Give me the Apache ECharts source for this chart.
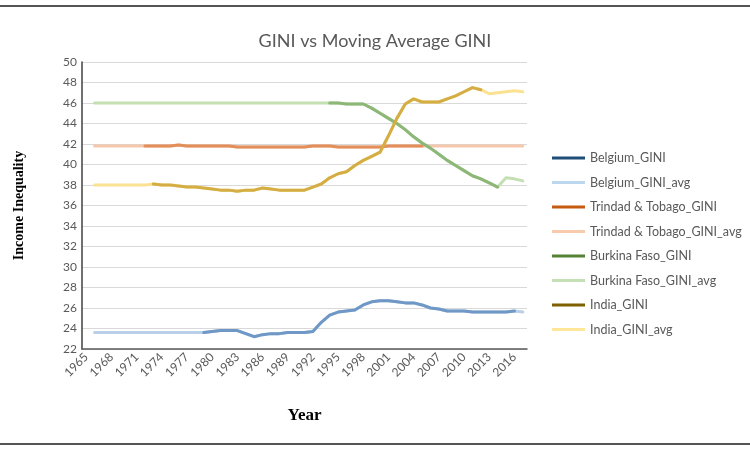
<!DOCTYPE html>
<html>
<head>
<meta charset="utf-8">
<script src="https://cdn.jsdelivr.net/npm/echarts@6/dist/echarts.min.js"></script>
<style>
html,body{margin:0;padding:0;background:#fff;}
#chart{width:750px;height:450px;}
</style>
</head>
<body>
<div id="chart"></div>
<script>
const years = ['1965','1966','1967','1968','1969','1970','1971','1972','1973','1974','1975','1976','1977','1978','1979','1980','1981','1982','1983','1984','1985','1986','1987','1988','1989','1990','1991','1992','1993','1994','1995','1996','1997','1998','1999','2000','2001','2002','2003','2004','2005','2006','2007','2008','2009','2010','2011','2012','2013','2014','2015','2016','2017'];

const belgiumGini = [null,null,null,null,null,null,null,null,null,null,null,null,null,null,
  23.6,23.7,23.8,23.8,23.8,23.5,23.2,23.4,23.5,23.5,23.6,23.6,23.6,23.7,24.6,25.3,25.6,25.7,25.8,26.3,26.6,26.7,26.7,26.6,26.5,26.5,26.3,26.0,25.9,25.7,25.7,25.7,25.6,25.6,25.6,25.6,25.6,25.7,null];
const belgiumAvg = [null,23.6,23.6,23.6,23.6,23.6,23.6,23.6,23.6,23.6,23.6,23.6,23.6,23.6,
  23.6,23.7,23.8,23.8,23.8,23.5,23.2,23.4,23.5,23.5,23.6,23.6,23.6,23.7,24.6,25.3,25.6,25.7,25.8,26.3,26.6,26.7,26.7,26.6,26.5,26.5,26.3,26.0,25.9,25.7,25.7,25.7,25.6,25.6,25.6,25.6,25.6,25.7,25.6];

const trinidadGini = [null,null,null,null,null,null,null,
  41.8,41.8,41.8,41.8,41.9,41.8,41.8,41.8,41.8,41.8,41.8,41.7,41.7,41.7,41.7,41.7,41.7,41.7,41.7,41.7,41.8,41.8,41.8,41.7,41.7,41.7,41.7,41.7,41.7,41.8,41.8,41.8,41.8,41.8,
  null,null,null,null,null,null,null,null,null,null,null,null];
const trinidadAvg = [null,41.8,41.8,41.8,41.8,41.8,41.8,
  41.8,41.8,41.8,41.8,41.9,41.8,41.8,41.8,41.8,41.8,41.8,41.7,41.7,41.7,41.7,41.7,41.7,41.7,41.7,41.7,41.8,41.8,41.8,41.7,41.7,41.7,41.7,41.7,41.7,41.8,41.8,41.8,41.8,41.8,
  41.8,41.8,41.8,41.8,41.8,41.8,41.8,41.8,41.8,41.8,41.8,41.8];

const burkinaGini = [null,null,null,null,null,null,null,null,null,null,null,null,null,null,null,null,null,null,null,null,null,null,null,null,null,null,null,null,null,
  46.0,46.0,45.9,45.9,45.9,45.5,45.0,44.5,44.0,43.4,42.7,42.1,41.6,41.0,40.4,39.9,39.4,38.9,38.6,38.2,37.8,
  null,null,null];
const burkinaAvg = [null,46.0,46.0,46.0,46.0,46.0,46.0,46.0,46.0,46.0,46.0,46.0,46.0,46.0,46.0,46.0,46.0,46.0,46.0,46.0,46.0,46.0,46.0,46.0,46.0,46.0,46.0,46.0,46.0,
  46.0,46.0,45.9,45.9,45.9,45.5,45.0,44.5,44.0,43.4,42.7,42.1,41.6,41.0,40.4,39.9,39.4,38.9,38.6,38.2,37.8,
  38.7,38.6,38.4];

const indiaGini = [null,null,null,null,null,null,null,null,
  38.1,38.0,38.0,37.9,37.8,37.8,37.7,37.6,37.5,37.5,37.4,37.5,37.5,37.7,37.6,37.5,37.5,37.5,37.5,37.8,38.1,38.7,39.1,39.3,39.9,40.4,40.8,41.2,42.8,44.5,45.9,46.4,46.1,46.1,46.1,46.4,46.7,47.1,47.5,47.3,
  null,null,null,null,null];
const indiaAvg = [null,38.0,38.0,38.0,38.0,38.0,38.0,38.0,
  38.1,38.0,38.0,37.9,37.8,37.8,37.7,37.6,37.5,37.5,37.4,37.5,37.5,37.7,37.6,37.5,37.5,37.5,37.5,37.8,38.1,38.7,39.1,39.3,39.9,40.4,40.8,41.2,42.8,44.5,45.9,46.4,46.1,46.1,46.1,46.4,46.7,47.1,47.5,47.3,
  46.9,47.0,47.1,47.2,47.1];

const seriesNames = ['Belgium_GINI','Belgium_GINI_avg','Trindad & Tobago_GINI','Trindad & Tobago_GINI_avg','Burkina Faso_GINI','Burkina Faso_GINI_avg','India_GINI','India_GINI_avg'];
const seriesData = [belgiumGini, belgiumAvg, trinidadGini, trinidadAvg, burkinaGini, burkinaAvg, indiaGini, indiaAvg];
const legendColors = ['#1f4e79','#bdd7ee','#c55a11','#f8cbad','#548235','#c5e0b4','#7f6000','#ffe699'];
const plotColors = ['#6f98c6','#b9d0e8','#e38f5c','#f6c8ab','#8cb776','#c4dfb2','#d4ae45','#fbe292'];

const chart = echarts.init(document.getElementById('chart'), null, {renderer:'canvas'});
const textColor = '#595959';

const series = seriesNames.map((n, i) => ({
  name: n,
  type: 'line',
  data: seriesData[i],
  showSymbol: false,
  symbol: 'none',
  connectNulls: false,
  smooth: false,
  z: (i % 2 === 0) ? 4 : 3,
  lineStyle: {width: 3, color: plotColors[i], cap: 'round', join: 'round'},
  itemStyle: {color: plotColors[i]},
  emphasis: {disabled: true},
  animation: false
}));

chart.setOption({
  animation: false,
  backgroundColor: '#ffffff',
  title: {
    text: 'GINI vs Moving Average GINI',
    left: 'center',
    top: 27,
    textStyle: {fontFamily: 'Lato', fontSize: 18, fontWeight: 'normal', color: textColor}
  },
  legend: {
    orient: 'vertical',
    left: 547,
    top: 146,
    icon: 'rect',
    itemWidth: 33,
    itemHeight: 3,
    itemGap: 10.5,
    textStyle: {fontFamily: 'Lato', fontSize: 12.5, color: textColor, lineHeight: 14, padding: [0,0,0,0]},
    data: seriesNames.map((n, i) => ({name: n, itemStyle: {color: legendColors[i]}})),
    selectedMode: false
  },
  grid: {left: 82, right: 223, top: 62, bottom: 101, containLabel: false},
  xAxis: {
    type: 'category',
    data: years,
    boundaryGap: true,
    name: 'Year',
    nameLocation: 'middle',
    nameGap: 58,
    nameTextStyle: {fontFamily: 'Liberation Serif', fontWeight: 'bold', fontSize: 17, color: '#000'},
    axisLine: {lineStyle: {color: '#595959', width: 1.5}},
    axisTick: {show: false},
    axisLabel: {interval: 2, rotate: 45, fontFamily: 'Lato', fontSize: 12, color: textColor, margin: 6}
  },
  yAxis: {
    type: 'value',
    min: 22,
    max: 50,
    interval: 2,
    name: 'Income Inequality',
    nameLocation: 'middle',
    nameGap: 56,
    nameTextStyle: {fontFamily: 'Liberation Serif', fontWeight: 'bold', fontSize: 14, color: '#000'},
    axisLine: {show: true, lineStyle: {color: '#404040', width: 1.5}},
    axisTick: {show: false},
    axisLabel: {fontFamily: 'Lato', fontSize: 12, color: textColor, margin: 5},
    splitLine: {lineStyle: {color: '#d9d9d9', width: 1}}
  },
  graphic: [
    {type: 'line', shape: {x1: 0, y1: 6, x2: 750, y2: 6}, style: {stroke: '#555', lineWidth: 2}, silent: true},
    {type: 'line', shape: {x1: 0, y1: 444, x2: 750, y2: 444}, style: {stroke: '#555', lineWidth: 2}, silent: true}
  ],
  series: series
});
</script>
</body>
</html>
